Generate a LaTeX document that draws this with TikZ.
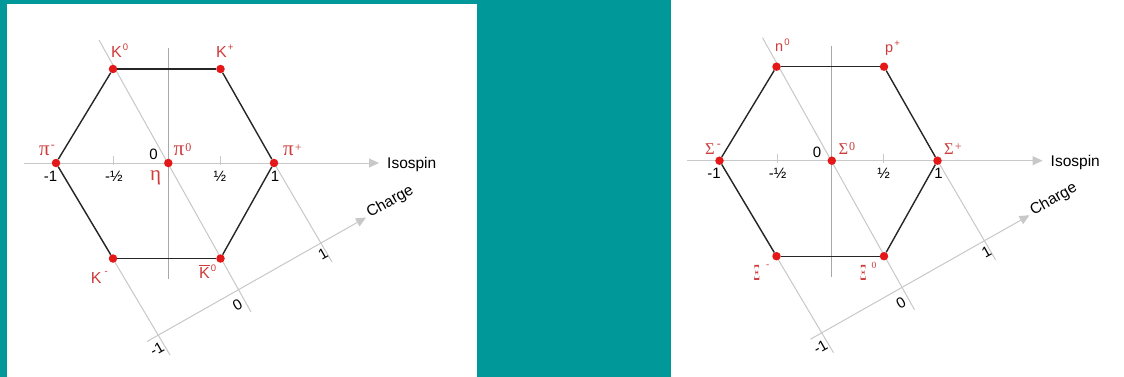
\documentclass[tikz,border=0pt]{standalone}
\usepackage{fontspec}
\setmainfont{Liberation Sans}
\newfontfamily\grfont{Liberation Serif}
\usetikzlibrary{arrows.meta}
\definecolor{tealbg}{RGB}{0,152,152}
\definecolor{dotred}{RGB}{228,24,24}
\definecolor{lblred}{RGB}{206,60,60}
\definecolor{axgray}{RGB}{200,200,200}
\definecolor{vgray}{RGB}{168,168,168}
\newcommand{\sps}[2][7pt]{\raisebox{#1}{\fontsize{9.5}{10}\selectfont #2}}
\newcommand{\gsps}[2][4pt]{\raisebox{#1}{\fontsize{12}{12}\selectfont #2}}
\newcommand{\tallXi}{\scalebox{0.6}[1.4]{Ξ}}
\newcommand{\skeleton}[1]{%
  \coordinate (#1ia) at (23.5,163);
  \coordinate (#1ib) at (379,163);
  \coordinate (#1va) at (168.3,48);
  \coordinate (#1vb) at (168.3,279);
  \coordinate (#1tma) at (113.5,156);
  \coordinate (#1tmb) at (113.5,165);
  \coordinate (#1tpa) at (220,156);
  \coordinate (#1tpb) at (220,165);
  \coordinate (#1qma) at (56,163);
  \coordinate (#1qmb) at (170,355);
  \coordinate (#1qza) at (99,40);
  \coordinate (#1qzb) at (251,312);
  \coordinate (#1qpa) at (274,163);
  \coordinate (#1qpb) at (332,262);
  \coordinate (#1ca) at (147,341.5);
  \coordinate (#1cb) at (366,217.5);
  \draw[vaxis] (#1va) -- (#1vb);
  \draw[gline] (#1tma) -- (#1tmb);
  \draw[gline] (#1tpa) -- (#1tpb);
  \draw[gline] (#1qma) -- (#1qmb);
  \draw[gline] (#1qza) -- (#1qzb);
  \draw[gline] (#1qpa) -- (#1qpb);
  \draw[gline,arr] (#1ia) -- (#1ib);
  \draw[gline,arr] (#1ca) -- (#1cb);
  \node[dot] (#1L) at (56,163) {};
  \node[dot] (#1C) at (168.3,163) {};
  \node[dot] (#1R) at (274,163) {};
  \node[dot] (#1TL) at (113,69) {};
  \node[dot] (#1TR) at (220.5,69) {};
  \node[dot] (#1BL) at (113,258.5) {};
  \node[dot] (#1BR) at (220.5,258.5) {};
  \draw[hexedge] (#1TL) -- (#1TR);
  \draw[hexedge] (#1TR) -- (#1R);
  \draw[hexedge] (#1R) -- (#1BR);
  \draw[hexedge] (#1BR) -- (#1BL);
  \draw[hexedge] (#1BL) -- (#1L);
  \draw[hexedge] (#1L) -- (#1TL);
  \node[num,anchor=base] (#1nm1) at (50.5,181) {-1};
  \node[num,anchor=base] (#1nmh) at (114,181) {-½};
  \node[num,anchor=base] (#1nph) at (220,181) {½};
  \node[num,anchor=base] (#1np1) at (275,181) {1};
  \node[num,anchor=base] (#1nz) at (153.5,160) {0};
  \node[axlbl,anchor=base west] (#1iso) at (387,168.3) {Isospin};
  \node[axlbl,anchor=base west,rotate=29.5] (#1chg) at (370,218) {Charge};
  \node[num,rotate=29.5] (#1cm1) at (157,349) {-1};
  \node[num,rotate=29.5] (#1cz) at (237.5,305) {0};
  \node[num,rotate=29.5] (#1cp1) at (323,254) {1};
}
\begin{document}
\begin{tikzpicture}[x=1pt,y=-1pt,
  dot/.style={circle,fill=dotred,inner sep=0pt,minimum size=8.5pt},
  hexedge/.style={line width=1.4pt,black!85},
  gline/.style={axgray,line width=1pt},
  vaxis/.style={vgray,line width=1pt},
  arr/.style={-{Triangle[length=10pt,width=9pt]}},
  lbl/.style={text=lblred,font=\fontsize{16}{16}\selectfont,inner sep=0pt,anchor=base west},
  slbl/.style={text=lblred,font=\fontsize{14.5}{15}\selectfont,inner sep=0pt,anchor=base west},
  glbl/.style={text=lblred,font=\fontsize{21}{21}\grfont,inner sep=0pt,anchor=base west},
  gslbl/.style={text=lblred,font=\fontsize{16.5}{17}\grfont,inner sep=0pt,anchor=base west},
  num/.style={font=\fontsize{15}{15}\selectfont,inner sep=0pt},
  axlbl/.style={font=\fontsize{15.5}{16}\selectfont,inner sep=0pt}]
\useasboundingbox (0,0) rectangle (1124,377);
\fill[tealbg] (0,0) rectangle (1124,377);
\fill[white] (7,4) rectangle (476.7,377);
\fill[white] (671,0) rectangle (1124,377);
% left panel: mesons
\begin{scope}
  \skeleton{a}
  \node[lbl] (aK0) at (111,57.3) {K\hspace{1pt}\sps{0}};
  \node[lbl] (aKp) at (216,57.3) {K\hspace{1pt}\sps{+}};
  \node[glbl] (api-) at (39,155) {π\hspace{1pt}\gsps[7pt]{-}};
  \node[glbl] (api0) at (173.5,155) {π\hspace{1pt}\gsps{0}};
  \node[glbl] (apip) at (283,155) {π\hspace{1pt}\gsps{+}};
  \node[lbl] (aKm) at (90.7,283) {K\hspace{3pt}\sps[9pt]{-}};
  \node[lbl] (aKb) at (199,278) {$\overline{\mbox{K}}$\hspace{1pt}\sps{0}};
  \node[glbl,anchor=base] (aeta) at (155.5,180) {η};
\end{scope}
% right panel: baryons
\begin{scope}[shift={(663.5,-2.3)}]
  \skeleton{b}
  \node[slbl] (bn0) at (111.5,54) {n\hspace{1pt}\sps[6pt]{0}};
  \node[slbl] (bpp) at (221.5,55.3) {p\hspace{1pt}\sps[6pt]{+}};
  \node[gslbl] (bSm) at (41.5,156.3) {Σ\hspace{2pt}\gsps[7pt]{-}};
  \node[gslbl] (bS0) at (174.8,156.3) {Σ\hspace{1pt}\gsps{0}};
  \node[gslbl] (bSp) at (280.5,156.3) {Σ\hspace{1pt}\gsps{+}};
  \node[gslbl] (bXm) at (90,282.3) {\tallXi\hspace{6pt}\sps[13pt]{-}};
  \node[gslbl] (bX0) at (196.5,282.3) {\tallXi\hspace{5pt}\sps[12pt]{0}};
\end{scope}
\end{tikzpicture}
\end{document}
